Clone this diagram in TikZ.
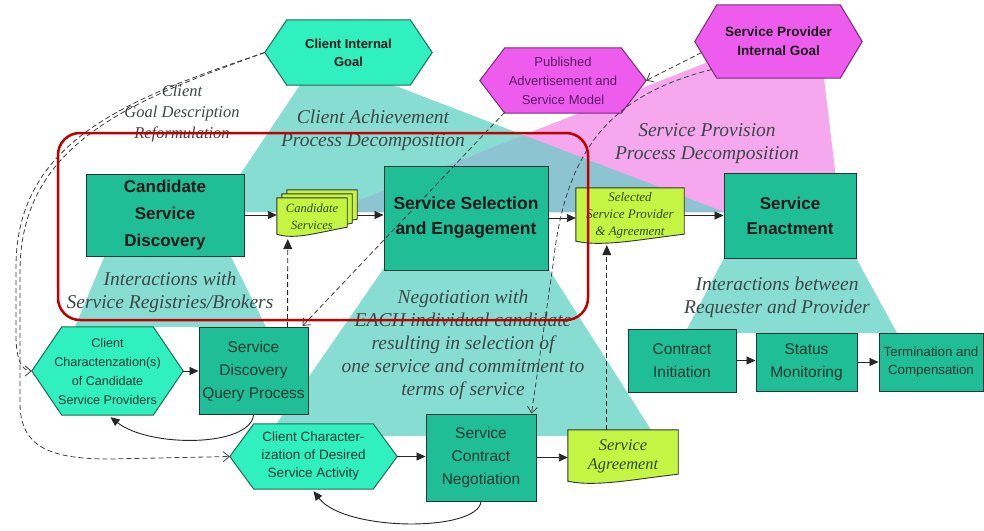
\documentclass[tikz,border=0pt]{standalone}
\usepackage{fontspec}
\setmainfont{Liberation Serif}
\newfontfamily\arial{Liberation Sans}
\usetikzlibrary{arrows.meta,calc}
\pgfdeclarelayer{tri}
\pgfdeclarelayer{shp}
\pgfsetlayers{tri,shp,main}
\definecolor{boxc}{HTML}{20BE96}
\definecolor{hexc}{HTML}{30F0C0}
\definecolor{hexe}{HTML}{1E6E52}
\definecolor{tric}{HTML}{88DDD3}
\definecolor{ovlc}{HTML}{8CC4D2}
\definecolor{pinkc}{HTML}{F6A8EE}
\definecolor{magc}{HTML}{EE5CEE}
\definecolor{mage}{HTML}{7A2A7A}
\definecolor{docc}{HTML}{C4F542}
\definecolor{redc}{HTML}{C00000}
\definecolor{labc}{HTML}{3C4846}
\definecolor{edgec}{HTML}{1E3A30}
\definecolor{boxt}{HTML}{163A2E}
\definecolor{pubt}{HTML}{5A1A66}
\definecolor{doct}{HTML}{2E4A1C}
\newcommand\hexa[3]{%
  \path[#3] (#1.west) -- ($(#1.north west)+(#2,0)$) -- ($(#1.north east)+(-#2,0)$) -- (#1.east)
   -- ($(#1.south east)+(-#2,0)$) -- ($(#1.south west)+(#2,0)$) -- cycle;}
\newcommand\docshape[2]{%
  \path[#2] (#1.north west) -- (#1.north east) -- ($(#1.south east)+(0,-9)$)
   .. controls ($(#1.south east)!0.4!(#1.south west)+(0,-4)$) and ($(#1.south east)!0.75!(#1.south west)+(0,4)$)
   .. ($(#1.south west)+(0,-2)$) -- cycle;}
\begin{document}
\begin{tikzpicture}[x=1pt,y=-1pt,
  box/.style={draw=edgec, line width=1pt, fill=boxc, align=center, inner sep=0pt, text=boxt},
  bigbox/.style={box, text=black!90, font=\arial\bfseries\fontsize{17}{26}\selectfont},
  hexn/.style={align=center, inner sep=0pt},
  docn/.style={align=center, inner sep=0pt, text=doct},
  lab/.style={align=center, inner sep=0pt, text=labc, font=\itshape\fontsize{19.5}{23}\selectfont},
  hexst/.style={fill=hexc, draw=hexe, line width=1pt},
  magst/.style={fill=magc, draw=mage, line width=1pt},
  docst/.style={fill=docc, draw=black!80, line width=0.9pt},
  arr/.style={-{Triangle[length=9pt,width=8pt]}, line width=0.9pt, draw=black!85},
  darr/.style={dash pattern=on 5pt off 3pt, line width=0.8pt, draw=black!75, -{Straight Barb[length=6pt,width=10pt]}},
  dfarr/.style={dash pattern=on 5pt off 3pt, line width=0.9pt, draw=black!85, -{Triangle[length=10pt,width=9pt]}}
]
\useasboundingbox (0,0) rectangle (984,530);

% ---- main boxes
\node[bigbox, minimum width=158pt, minimum height=82pt, font=\arial\bfseries\fontsize{17}{27}\selectfont] (csd) at (165,215) {Candidate\\Service\\Discovery};
\node[bigbox, minimum width=164pt, minimum height=104pt, font=\arial\bfseries\fontsize{17.5}{25}\selectfont] (sse) at (466,218) {Service Selection\\and Engagement};
\node[bigbox, minimum width=132pt, minimum height=85pt, font=\arial\bfseries\fontsize{17}{25}\selectfont] (se) at (790,216) {Service\\Enactment};
\node[box, minimum width=109pt, minimum height=87pt, font=\arial\fontsize{15.5}{23}\selectfont] (sdqp) at (253.5,371) {Service\\Discovery\\Query Process};
\node[box, minimum width=110pt, minimum height=87pt, font=\arial\fontsize{15.5}{23}\selectfont] (scn) at (481,457.5) {Service\\Contract\\Negotiation};
\node[box, minimum width=108pt, minimum height=63pt, font=\arial\fontsize{15.5}{23}\selectfont] (ci) at (682,360.5) {Contract\\Initiation};
\node[box, minimum width=101pt, minimum height=58pt, font=\arial\fontsize{15.5}{23}\selectfont] (sm) at (806.5,362) {Status\\Monitoring};
\node[box, minimum width=104pt, minimum height=58pt, font=\arial\fontsize{13.3}{18}\selectfont] (tc) at (931,362) {Termination and\\Compensation};

% ---- hexagon nodes
\node[hexn, minimum width=167pt, minimum height=65pt, text=black!90, font=\arial\bfseries\fontsize{13}{18}\selectfont] (cig) at (348.5,52.5) {Client Internal\\Goal};
\node[hexn, minimum width=166pt, minimum height=65pt, text=pubt, font=\arial\fontsize{13}{19}\selectfont] (pub) at (563,80.5) {Published\\Advertisement and\\Service Model};
\node[hexn, minimum width=167pt, minimum height=73pt, text=black!90, font=\arial\bfseries\fontsize{13.5}{19}\selectfont] (spg) at (778.5,41.5) {Service Provider\\Internal Goal};
\node[hexn, minimum width=151pt, minimum height=88pt, text=boxt, font=\arial\fontsize{12.6}{19}\selectfont] (ccc) at (107.5,371) {Client\\Charactenzation(s)\\of Candidate\\Service Providers};
\node[hexn, minimum width=167pt, minimum height=65pt, text=boxt, font=\arial\fontsize{13.5}{18}\selectfont] (ccd) at (313.5,456.5) {Client Character-\\ization of Desired\\Service Activity};

% ---- document nodes
\node[docn, minimum width=70pt, minimum height=38pt] (cs3) at (322,209) {};
\node[docn, minimum width=70pt, minimum height=38pt] (cs2) at (317,213) {};
\node[docn, minimum width=70pt, minimum height=38pt, font=\itshape\fontsize{12.5}{17}\selectfont] (cs) at (312,217) {Candidate\\Services};
\node[docn, minimum width=108pt, minimum height=55pt, font=\itshape\fontsize{13}{17}\selectfont] (ssp) at (630,215.5) {Selected\\Service Provider\\\& Agreement};
\node[docn, minimum width=110pt, minimum height=53pt, font=\itshape\fontsize{16.4}{19}\selectfont] (sa) at (623,456.5) {Service\\Agreement};

% ---- labels
\node[lab, font=\itshape\fontsize{16.5}{21}\selectfont] (lcg) at (182,114) {Client\\Goal Description\\Reformulation};
\node[lab] (lca) at (373,130) {Client Achievement\\Process Decomposition};
\node[lab] (lsp) at (707,144) {Service Provision\\Process Decomposition};
\node[lab] (lisr) at (170,292) {Interactions with\\Service Registries/Brokers};
\node[lab] (lneg) at (463,345) {Negotiation with\\EACH individual candidate\\resulting in selection of\\one service and commitment to\\terms of service};
\node[lab] (lirp) at (777,297) {Interactions between\\Requester and Provider};

% ---- background triangles
\begin{pgfonlayer}{tri}
\fill[white] (0,0) rectangle (984,530);
\fill[tric] (300,85) -- (393,85) -- (724,212) -- (215,212) -- cycle;
\fill[pinkc] (708,62) -- (823,70) -- (840,212) -- (330,212) -- cycle;
\begin{scope}
\clip (300,85) -- (393,85) -- (724,212) -- (215,212) -- cycle;
\fill[ovlc] (708,62) -- (823,70) -- (840,212) -- (330,212) -- cycle;
\end{scope}
\fill[tric] (105,255) -- (230,255) -- (266,327) -- (75,327) -- cycle;
\fill[tric] (384,268) -- (548,268) -- (655,436) -- (268,436) -- cycle;
\fill[tric] (724,258) -- (856,258) -- (897,333) -- (685,333) -- cycle;
\end{pgfonlayer}

% ---- hexagon and document shapes
\begin{pgfonlayer}{shp}
\hexa{cig}{22}{hexst}
\hexa{pub}{25}{magst}
\hexa{spg}{22}{magst}
\hexa{ccc}{30}{hexst}
\hexa{ccd}{24}{hexst}
\docshape{cs3}{docst}
\docshape{cs2}{docst}
\docshape{cs}{docst}
\docshape{ssp}{docst}
\docshape{sa}{docst}
\end{pgfonlayer}

% ---- solid arrows
\draw[arr] (csd.east) -- (csd.east -| cs.west);
\draw[arr] (csd.east -| cs3.east) -- (csd.east -| sse.west);
\draw[arr] (sse.east) -- (sse.east -| ssp.west);
\draw[arr] (ssp.east) -- (ssp.east -| se.west);
\draw[arr] (ccc.east) -- (ccc.east -| sdqp.west);
\draw[arr] (ccd.east) -- (ccd.east -| scn.west);
\draw[arr] (scn.east) -- (scn.east -| sa.west);
\draw[arr] (ci.east) -- (ci.east -| sm.west);
\draw[arr] (sm.east) -- (sm.east -| tc.west);
\draw[arr] (sdqp.south) .. controls (250,447) and (150,448) .. ($(ccc.south)+(3,2)$);
\draw[arr] (scn.south) .. controls (478,532) and (345,532) .. ($(ccd.south)+(0,2)$);

% ---- dashed connectors
\draw[darr] (cig.west) .. controls (130,98) and (16,140) .. (16,267) -- (16,335) .. controls (16,360) and (22,371) .. (ccc.west);
\draw[darr] (cig.west) .. controls (131,101) and (20,143) .. (20,272) -- (20,405) .. controls (21,447) and (50,459) .. (110,459) -- (ccd.west);
\draw[darr] ($(pub.south west)+(25,-1)$) -- ($(sdqp.north east)+(-6,-1)$);
\draw[darr] ($(spg.west)+(7,11)$) -- (pub.east);
\draw[darr] ($(spg.west)+(17,28)$) .. controls (610,95) and (565,150) .. (553,265) -- ($(scn.north east)+(-5,0)$);
\draw[dfarr] ($(sdqp.north west)+(89,0)$) -- ($(cs.south west)+(11,3)$);
\draw[dfarr] ($(sa.north west)+(39,0)$) -- ($(ssp.south west)+(31,2)$);

% ---- red highlight frame
\draw[redc, line width=2.5pt, rounded corners=22pt] (58,133) rectangle (588,320);
\end{tikzpicture}
\end{document}
